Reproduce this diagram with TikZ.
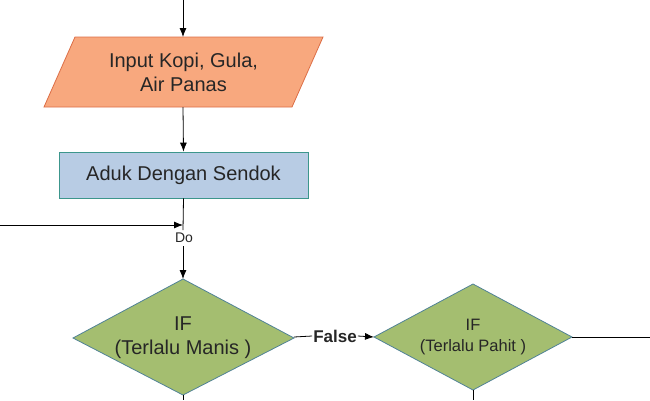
\documentclass[tikz,border=0pt]{standalone}
\usepackage{fontspec}
\setmainfont{Liberation Sans}
\usetikzlibrary{arrows.meta}
\begin{document}
\begin{tikzpicture}[x=1pt,y=-1pt,
  ln/.style={draw=black,line width=0.8pt},
  arr/.style={ln,-{Latex[length=9pt,width=7pt]}},
  txt/.style={font=\fontsize{20}{24}\selectfont,align=center,text=black!85}]
\useasboundingbox (0,0) rectangle (650,400);
\draw[fill={rgb,255:red,248;green,168;blue,126}, draw={rgb,255:red,220;green,110;blue,70}, line width=0.8pt]
  (75,37) -- (323,37) -- (292,107) -- (44,107) -- cycle;
\node[txt] (inp) at (183.5,72) {Input Kopi, Gula,\\Air Panas};
\node[draw={rgb,255:red,60;green,150;blue,140},fill={rgb,255:red,184;green,204;blue,228},line width=0.8pt,
  minimum width=249pt,minimum height=46pt,txt,inner sep=0pt] (aduk) at (183.5,175) {Aduk Dengan Sendok};
\draw[fill={rgb,255:red,164;green,190;blue,112},draw={rgb,255:red,80;green,130;blue,150},line width=0.8pt]
  (183,279) -- (294,338) -- (183,395) -- (73,338) -- cycle;
\node[txt] (if1) at (183,338) {IF\\(Terlalu Manis )};
\draw[fill={rgb,255:red,164;green,190;blue,112},draw={rgb,255:red,80;green,130;blue,150},line width=0.8pt]
  (473,284) -- (572,337) -- (473,390) -- (374,337) -- cycle;
\node[txt,font=\fontsize{16.5}{21}\selectfont] (if2) at (473,337) {IF\\(Terlalu Pahit )};
\coordinate (top) at (183,0);
\coordinate (ptop) at (183,37);
\coordinate (pbot) at (183,107);
\coordinate (d1t) at (183,279);
\coordinate (d1r) at (294,337);
\coordinate (d1b) at (183,395);
\coordinate (d2l) at (374,337);
\coordinate (d2r) at (572,337);
\coordinate (d2b) at (473,390);
\coordinate (lin) at (0,225);
\coordinate (join) at (183,225);
\draw[arr] (top) -- (ptop);
\draw[arr] (pbot) -- (aduk.north);
\draw[ln] (aduk.south) -- (183,230);
\node[font=\fontsize{14}{16}\selectfont,text=black!85] (do) at (184,238) {Do};
\draw[arr] (183,246) -- (d1t);
\draw[arr] (lin) -- (join);
\node[font=\fontsize{17}{20}\selectfont\bfseries,text=black!85,inner sep=1pt] (fl) at (335,336) {False};
\draw[ln] (d1r) -- (fl.west);
\draw[arr] (fl.east) -- (d2l);
\draw[ln] (d2r) -- (650,337);
\draw[ln] (d1b) -- (183,400);
\draw[ln] (d2b) -- (473,400);
\end{tikzpicture}
\end{document}
